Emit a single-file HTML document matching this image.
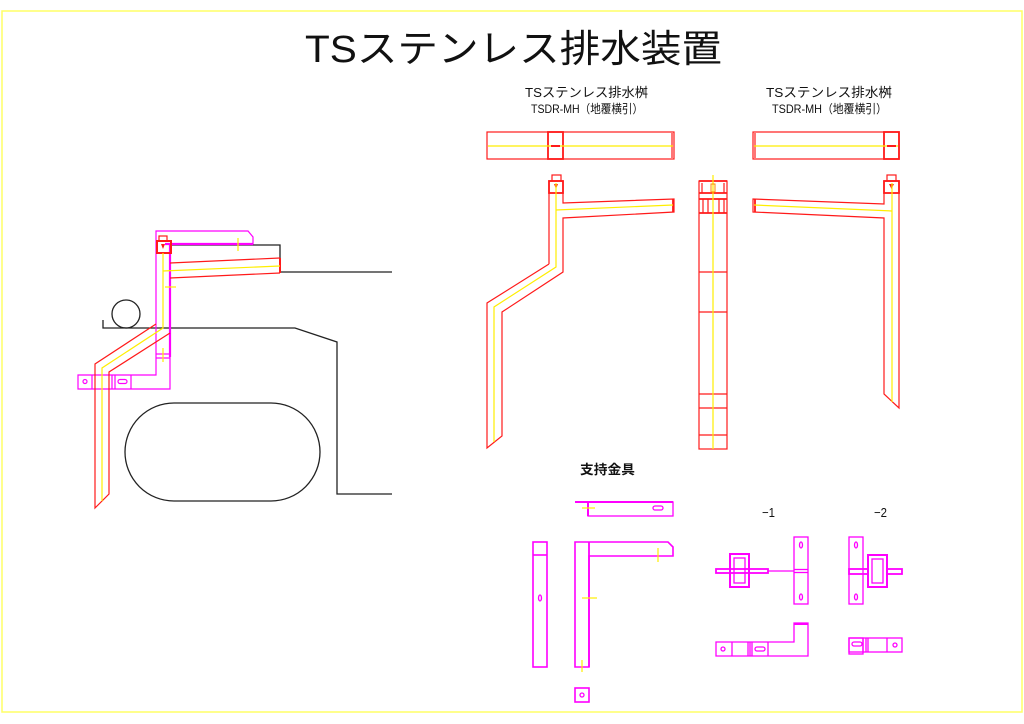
<!DOCTYPE html>
<html><head><meta charset="utf-8">
<style>html,body{margin:0;padding:0;background:#fff;}svg{display:block}</style>
</head>
<body>
<svg width="1024" height="724" viewBox="0 0 1024 724" xmlns="http://www.w3.org/2000/svg">
<rect x="0" y="0" width="1024" height="724" fill="#fff"/>
<rect x="2" y="11" width="1020" height="701" fill="none" stroke="#ffff66" stroke-width="1.5"/>

<!-- TEXT -->
<g font-family="'Liberation Sans','Noto Sans CJK JP',sans-serif" fill="#111">
  <text x="305" y="62" font-size="38" textLength="417" lengthAdjust="spacingAndGlyphs">TSステンレス排水装置</text>
  <text x="525" y="97" font-size="13" textLength="123" lengthAdjust="spacingAndGlyphs">TSステンレス排水桝</text>
  <text x="531" y="113" font-size="12" textLength="112" lengthAdjust="spacingAndGlyphs">TSDR-MH（地覆横引）</text>
  <text x="766" y="97" font-size="13" textLength="126" lengthAdjust="spacingAndGlyphs">TSステンレス排水桝</text>
  <text x="772" y="113" font-size="12" textLength="115" lengthAdjust="spacingAndGlyphs">TSDR-MH（地覆横引）</text>
  <text x="580" y="474" font-size="13" font-weight="bold" textLength="55" lengthAdjust="spacingAndGlyphs">支持金具</text>
  <text x="762" y="517" font-size="13" textLength="13" lengthAdjust="spacingAndGlyphs">−1</text>
  <text x="874" y="517" font-size="13" textLength="13" lengthAdjust="spacingAndGlyphs">−2</text>
</g>

<!-- LEFT DRAWING: black structure -->
<g fill="none" stroke="#222" stroke-width="1.3">
  <polyline points="170,245 280,245 280,272 392,272"/>
  <polyline points="103,320 103,328 295,328 337,342 337,494 392,494"/>
  <circle cx="126" cy="314" r="14"/>
  <rect x="125" y="403" width="195" height="98" rx="49" ry="49"/>
</g>

<!-- LEFT DRAWING: magenta bracket -->
<g fill="none" stroke="#ff00ff" stroke-width="1.2">
  <polygon points="156,231 248,231 253,237 253,244 170,244 170,389 78,389 78,375 156,375"/>
  <line x1="165" y1="244" x2="253" y2="244" stroke-width="2.2"/>
  <line x1="170" y1="244" x2="170" y2="357" stroke-width="2.2"/>
  <line x1="92" y1="375" x2="92" y2="389"/>
  <line x1="112" y1="375" x2="112" y2="389"/>
  <line x1="115" y1="375" x2="115" y2="389"/>
  <line x1="131" y1="375" x2="131" y2="389"/>
  <circle cx="85" cy="381.5" r="2"/>
  <rect x="118" y="379.5" width="9" height="4" rx="2"/>
  <line x1="156" y1="354" x2="170" y2="354"/>
  <line x1="156" y1="358" x2="170" y2="358"/>
</g>

<!-- LEFT DRAWING: red pipe -->
<g fill="none" stroke="#ff1a1a" stroke-width="1.2">
  <rect x="159" y="236" width="8" height="5"/>
  <rect x="157" y="241" width="14" height="12" stroke-width="2"/>
  <polygon points="161,244 165,244 163,249" fill="#ff1a1a" stroke="none"/>
  <line x1="170" y1="263" x2="280" y2="258"/>
  <line x1="170" y1="278" x2="280" y2="273"/>
  <line x1="280" y1="258" x2="280" y2="273" stroke-width="2"/>
  <polyline points="156,324 95,364 95,508 109,494 109,372 170,333"/>
</g>
<g fill="none" stroke="#ffee00" stroke-width="1.2">
  <polyline points="163,253 163,328 102,368 102,501"/>
  <line x1="163" y1="271" x2="280" y2="266"/>
  <line x1="238" y1="238" x2="238" y2="251"/>
  <line x1="165" y1="287" x2="176" y2="287"/>
  <line x1="163" y1="348" x2="163" y2="362"/>
</g>

<!-- TOP PLAN VIEWS -->
<g fill="none" stroke="#ff1a1a" stroke-width="1.2">
  <rect x="487" y="132" width="187" height="27"/>
  <line x1="672" y1="133" x2="672" y2="158"/>
  <rect x="548" y="132" width="15" height="27" stroke-width="1.8"/>
  <rect x="753" y="132" width="146" height="27"/>
  <line x1="755" y1="133" x2="755" y2="158"/>
  <rect x="884" y="132" width="15" height="27" stroke-width="1.8"/>
</g>
<g stroke="#ffee00" stroke-width="1.2">
  <line x1="488" y1="146" x2="673" y2="146"/>
  <line x1="754" y1="146" x2="898" y2="146"/>
</g>
<g stroke="#ff1a1a" stroke-width="2">
  <line x1="551" y1="146" x2="560" y2="146"/>
  <line x1="887" y1="146" x2="896" y2="146"/>
</g>

<!-- SIDE VIEWS -->
<g fill="none" stroke="#ff1a1a" stroke-width="1.2">
  <!-- left side -->
  <polyline points="549,264 549,181 563,181 563,203 674,199 674,212 563,218 563,272 502,312 502,436 487,448 487,303 549,264"/>
  <line x1="673" y1="199" x2="673" y2="212" stroke-width="1.8"/>
  <rect x="549" y="181" width="14" height="12" stroke-width="1.8"/>
  <rect x="552" y="175" width="9" height="6"/>
  <polygon points="554,184 558,184 556,189" fill="#ff1a1a" stroke="none"/>
  <!-- front -->
  <rect x="699" y="181" width="28" height="268"/>
  <line x1="699" y1="193" x2="727" y2="193" stroke-width="1.8"/>
  <line x1="699" y1="199" x2="727" y2="199" stroke-width="1.8"/>
  <line x1="699" y1="213" x2="727" y2="213" stroke-width="1.8"/>
  <line x1="702" y1="183" x2="702" y2="193"/>
  <line x1="724" y1="183" x2="724" y2="193"/>
  <line x1="703" y1="199" x2="703" y2="213"/>
  <line x1="708" y1="199" x2="708" y2="213"/>
  <line x1="719" y1="199" x2="719" y2="213"/>
  <line x1="724" y1="199" x2="724" y2="213"/>
  <line x1="699" y1="272" x2="727" y2="272"/>
  <line x1="699" y1="312" x2="727" y2="312"/>
  <line x1="699" y1="394" x2="727" y2="394"/>
  <line x1="699" y1="408" x2="727" y2="408"/>
  <line x1="699" y1="435" x2="727" y2="435"/>
  <line x1="699" y1="181" x2="727" y2="181" stroke-width="1.8"/>
  <!-- right side -->
  <polyline points="884,181 884,204 753,199 753,212 884,218 884,394 899,408 899,181 884,181"/>
  <line x1="755" y1="199" x2="755" y2="212" stroke-width="1.8"/>
  <rect x="884" y="181" width="15" height="12" stroke-width="1.8"/>
  <rect x="887" y="175" width="9" height="6"/>
  <polygon points="889,184 894,184 891.5,189" fill="#ff1a1a" stroke="none"/>
</g>
<g fill="none" stroke="#ffee00" stroke-width="1.2">
  <polyline points="556,183 556,267 494,307 494,442"/>
  <line x1="556" y1="210" x2="673" y2="205"/>
  <line x1="713" y1="175" x2="713" y2="449"/>
  <line x1="892" y1="183" x2="892" y2="402"/>
  <line x1="754" y1="205" x2="892" y2="211"/>
</g>
<rect x="711" y="184" width="4" height="8" fill="none" stroke="#ff8800" stroke-width="1"/>

<!-- SUPPORT BRACKET -->
<g fill="none" stroke="#ff00ff" stroke-width="1.3">
  <line x1="575" y1="502" x2="673" y2="502" stroke-width="2"/>
  <rect x="588" y="502" width="85" height="14"/>
  <line x1="588" y1="502" x2="588" y2="516" stroke-width="2"/>
  <rect x="653" y="506" width="10" height="4" rx="2"/>
  <rect x="533" y="542" width="14" height="125" stroke-width="1.6"/>
  <line x1="533" y1="555" x2="547" y2="555" stroke-width="1.6"/>
  <ellipse cx="540" cy="598" rx="1.5" ry="3"/>
  <polygon points="575,542 668,542 673,547 673,556 589,556 589,667 575,667" stroke-width="1.6"/>
  <line x1="589" y1="542" x2="589" y2="667" stroke-width="1.8"/>
  <rect x="575" y="688" width="14" height="14" stroke-width="1.6"/>
  <circle cx="582" cy="695" r="2"/>
</g>
<g stroke="#ffee00" stroke-width="1.2">
  <line x1="582" y1="508" x2="595" y2="508"/>
  <line x1="658" y1="548" x2="658" y2="562"/>
  <line x1="582" y1="598" x2="597" y2="598"/>
  <line x1="582" y1="660" x2="582" y2="672"/>
</g>

<!-- -1 -->
<g fill="none" stroke="#ff00ff" stroke-width="1.3">
  <rect x="716" y="569" width="52" height="4" stroke-width="1.8"/>
  <rect x="730" y="554" width="19" height="33" stroke-width="2"/>
  <rect x="734" y="558" width="11" height="25"/>
  <line x1="768" y1="571" x2="794" y2="571"/>
  <rect x="794" y="537" width="14" height="67"/>
  <ellipse cx="801" cy="545" rx="1.5" ry="3"/>
  <ellipse cx="801" cy="597" rx="1.5" ry="3"/>
  <line x1="794" y1="569.5" x2="808" y2="569.5"/>
  <line x1="794" y1="572.5" x2="808" y2="572.5"/>
  <polygon points="716,642 794,642 794,623 808,623 808,656 716,656"/>
  <line x1="794" y1="624" x2="808" y2="624" stroke-width="2"/>
  <line x1="732" y1="642" x2="732" y2="656"/>
  <line x1="748" y1="642" x2="748" y2="656"/>
  <line x1="750" y1="642" x2="750" y2="656"/>
  <line x1="752" y1="642" x2="752" y2="656"/>
  <line x1="768" y1="642" x2="768" y2="656"/>
  <circle cx="723" cy="649" r="2"/>
  <rect x="755" y="647" width="10" height="4" rx="2"/>
</g>

<!-- -2 -->
<g fill="none" stroke="#ff00ff" stroke-width="1.3">
  <rect x="849" y="537" width="14" height="67"/>
  <ellipse cx="856" cy="545" rx="1.5" ry="3"/>
  <ellipse cx="856" cy="597" rx="1.5" ry="3"/>
  <rect x="849" y="569" width="53" height="5" stroke-width="1.8"/>
  <rect x="868" y="555" width="19" height="32" stroke-width="2" fill="#fff"/>
  <rect x="872" y="559" width="11" height="24"/>
  <rect x="849" y="638" width="53" height="14"/>
  <rect x="849" y="638" width="14" height="16"/>
  <line x1="863" y1="638" x2="863" y2="652"/>
  <line x1="866" y1="638" x2="866" y2="652"/>
  <line x1="868" y1="638" x2="868" y2="652"/>
  <line x1="887" y1="638" x2="887" y2="652"/>
  <rect x="852" y="642" width="10" height="4" rx="2"/>
  <circle cx="895" cy="645" r="2"/>
</g>
</svg>
</body></html>
